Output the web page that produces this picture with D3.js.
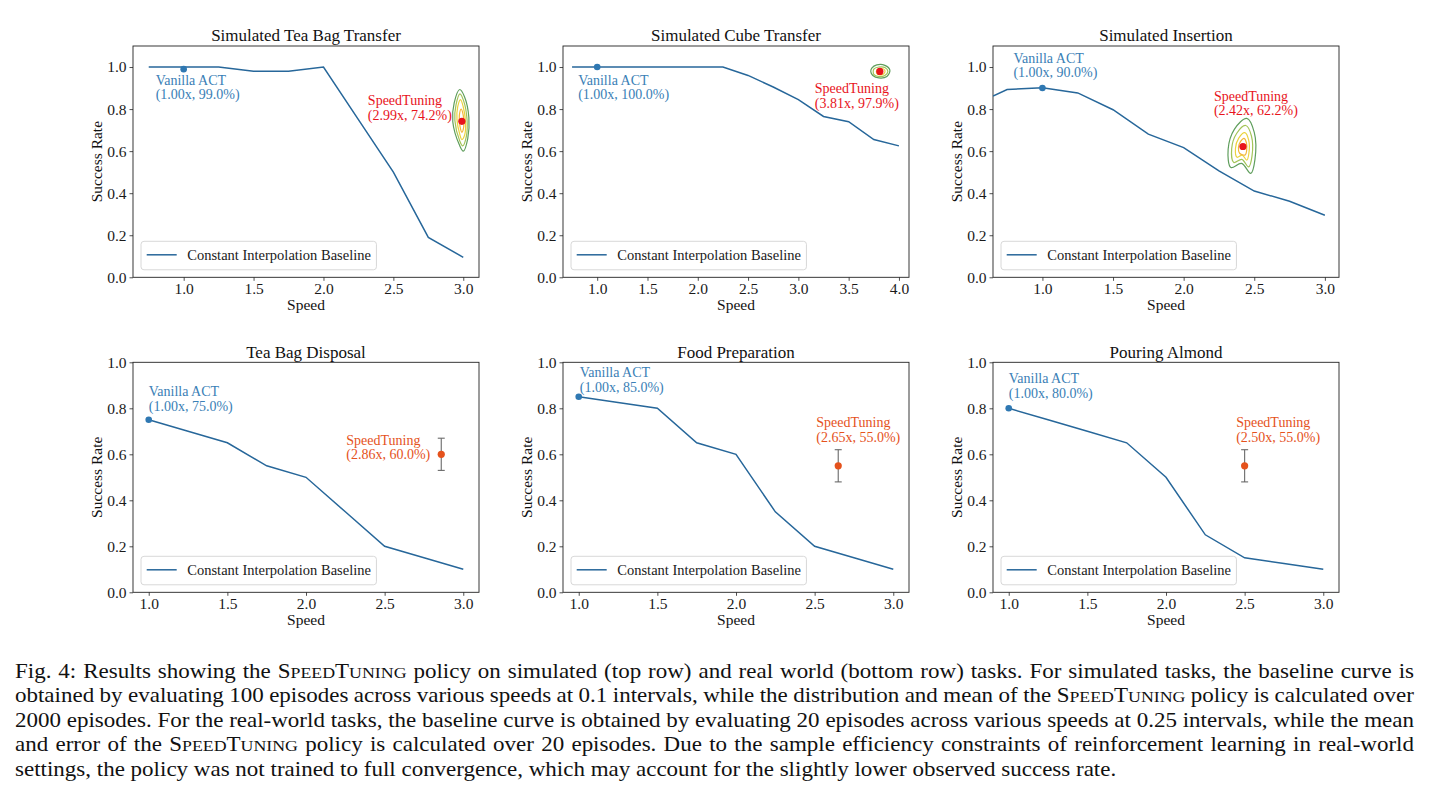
<!DOCTYPE html>
<html>
<head>
<meta charset="utf-8">
<script src="https://cdn.jsdelivr.net/npm/d3@7"></script>
<style>
body { margin: 0; background: #fff; }
svg text { font-family: "Liberation Serif", "DejaVu Serif", serif; }
</style>
</head>
<body>
<div class="fig"></div>
<script>
// speedtuning figure: six panels + caption

/* data */
var titles = ["Simulated Tea Bag Transfer", "Simulated Cube Transfer", "Simulated Insertion",
              "Tea Bag Disposal", "Food Preparation", "Pouring Almond"];

var teaBagTransferSpeeds = [0.75, 1.0, 1.25, 1.5, 1.75, 2.0, 2.25, 2.5, 2.75, 3.0];
var teaBagTransferRates  = [1.00, 1.00, 1.00, 0.98, 0.98, 1.00, 0.75, 0.50, 0.19, 0.095];

var cubeTransferSpeeds = [0.75, 1.0, 1.25, 1.5, 1.75, 2.0, 2.25, 2.5, 2.75, 3.0, 3.25, 3.5, 3.75, 4.0];
var cubeTransferRates  = [1.00, 1.00, 1.00, 1.00, 1.00, 1.00, 1.00, 0.96, 0.905, 0.845, 0.765, 0.74, 0.655, 0.625];

var insertionSpeeds = [0.65, 0.75, 1.0, 1.25, 1.5, 1.75, 2.0, 2.25, 2.5, 2.75, 3.0];
var insertionRates  = [0.862, 0.893, 0.901, 0.877, 0.797, 0.681, 0.617, 0.506, 0.41, 0.362, 0.295];

var realSpeeds = [1.0, 1.25, 1.5, 1.75, 2.0, 2.25, 2.5, 2.75, 3.0];
var teaBagDisposalRates = [0.75, 0.70, 0.65, 0.55, 0.50, 0.35, 0.20, 0.15, 0.10];
var foodPrepRates       = [0.85, 0.825, 0.80, 0.65, 0.60, 0.35, 0.20, 0.15, 0.10];
var pouringAlmondRates  = [0.80, 0.75, 0.70, 0.65, 0.50, 0.25, 0.15, 0.125, 0.10];

var vanillaSpeeds = [1.00, 1.00, 1.00, 1.00, 1.00, 1.00];
var vanillaRates  = [0.99, 1.00, 0.90, 0.75, 0.85, 0.80];

var tuningSpeeds = [2.99, 3.81, 2.42, 2.86, 2.65, 2.50];
var tuningRates  = [0.742, 0.979, 0.622, 0.60, 0.55, 0.55];
var tuningErr    = [0, 0, 0, 0.07, 0.07, 0.07];

// density contours of the simulated policy (outer -> inner), [speed, rate]
var contourTeaBag = [
  [[2.975,0.893],[3.008,0.86],[3.04,0.76],[3.032,0.66],[3.0,0.60],[2.972,0.63],[2.925,0.74],[2.935,0.83]],
  [[2.976,0.872],[3.002,0.84],[3.027,0.75],[3.022,0.67],[2.996,0.625],[2.974,0.65],[2.94,0.745],[2.948,0.82]],
  [[2.98,0.845],[3.0,0.81],[3.016,0.74],[3.011,0.68],[2.99,0.655],[2.975,0.68],[2.955,0.75],[2.96,0.81]],
  [[2.985,0.80],[3.0,0.77],[3.004,0.72],[2.99,0.69],[2.976,0.72],[2.972,0.77]]
];
var contourCube = [
  [[3.73,0.995],[3.78,1.01],[3.86,1.008],[3.91,0.985],[3.88,0.955],[3.8,0.948],[3.74,0.96],[3.72,0.978]],
  [[3.75,0.99],[3.8,1.0],[3.86,0.998],[3.89,0.98],[3.86,0.96],[3.8,0.955],[3.75,0.965]],
  [[3.78,0.985],[3.82,0.993],[3.86,0.985],[3.85,0.968],[3.81,0.963],[3.78,0.97]]
];
var contourInsertion = [
  [[2.447,0.756],[2.50,0.689],[2.505,0.561],[2.475,0.494],[2.41,0.542],[2.335,0.522],[2.315,0.609],[2.36,0.705]],
  [[2.44,0.722],[2.48,0.672],[2.484,0.576],[2.46,0.525],[2.412,0.561],[2.355,0.546],[2.34,0.612],[2.375,0.684]],
  [[2.433,0.688],[2.46,0.654],[2.462,0.59],[2.447,0.557],[2.415,0.581],[2.378,0.571],[2.367,0.614],[2.39,0.662]],
  [[2.428,0.661],[2.444,0.641],[2.446,0.602],[2.436,0.582],[2.396,0.59],[2.388,0.617],[2.402,0.645]]
];

var xTicksSim  = [1.0, 1.5, 2.0, 2.5, 3.0];
var xTicksCube = [1.0, 1.5, 2.0, 2.5, 3.0, 3.5, 4.0];
var yTicks     = [0.0, 0.2, 0.4, 0.6, 0.8, 1.0];

var captionLines = [
  "Fig. 4: Results showing the SPEEDTUNING policy on simulated (top row) and real world (bottom row) tasks. For simulated tasks, the baseline curve is",
  "obtained by evaluating 100 episodes across various speeds at 0.1 intervals, while the distribution and mean of the SPEEDTUNING policy is calculated over",
  "2000 episodes. For the real-world tasks, the baseline curve is obtained by evaluating 20 episodes across various speeds at 0.25 intervals, while the mean",
  "and error of the SPEEDTUNING policy is calculated over 20 episodes. Due to the sample efficiency constraints of reinforcement learning in real-world",
  "settings, the policy was not trained to full convergence, which may account for the slightly lower observed success rate."
];

/* layout */
var W = 1429, H = 792;
var colX = [133, 563, 993], rowY = [46, 362.3], rowH = [231.3, 230], plotW = 346;
var blue = "#27679a", blueMark = "#2f78b2", blueText = "#3a80b6";
var simRed = "#e8141c", realOrange = "#e5521c";
var contourColors = ["#5f9e5c", "#a3c457", "#ebd33f", "#f3b637"];

var panels = [
  {speeds: teaBagTransferSpeeds, rates: teaBagTransferRates, xDom: [0.6375, 3.1125], yDom: [0, 1.1], xTicks: xTicksSim,
   contour: contourTeaBag, tColor: simRed, van: [-28, 16], tun: [-94, -16]},
  {speeds: cubeTransferSpeeds, rates: cubeTransferRates, xDom: [0.66, 4.1], yDom: [0, 1.1], xTicks: xTicksCube,
   contour: contourCube, tColor: simRed, van: [-19, 17.5], tun: [-65, 22]},
  {speeds: insertionSpeeds, rates: insertionRates, xDom: [0.65, 3.1], yDom: [0, 1.1], xTicks: xTicksSim,
   contour: contourInsertion, tColor: simRed, van: [-29, -25], tun: [-29, -45.5]},
  {speeds: realSpeeds, rates: teaBagDisposalRates, xDom: [0.9, 3.1], yDom: [0, 1.0], xTicks: xTicksSim,
   contour: null, tColor: realOrange, van: [0, -23.5], tun: [-95, -9.5]},
  {speeds: realSpeeds, rates: foodPrepRates, xDom: [0.9, 3.1], yDom: [0, 1.0], xTicks: xTicksSim,
   contour: null, tColor: realOrange, van: [1, -19.5], tun: [-22, -38.5]},
  {speeds: realSpeeds, rates: pouringAlmondRates, xDom: [0.9, 3.1], yDom: [0, 1.0], xTicks: xTicksSim,
   contour: null, tColor: realOrange, van: [0, -25], tun: [-8.5, -38.5]}
];

var fmtSpeed = d3.format(".2f"), fmtRate = d3.format(".1%"), fmtTick = d3.format(".1f");

/* Generate svg */
var svg = d3.select(".fig").append("svg")
    .attr("width", W)
    .attr("height", H);
var defs = svg.append("defs");

panels.forEach(function(p, i) {
  var h = rowH[Math.floor(i / 3)];
  var g = svg.append("g")
      .attr("transform", "translate(" + colX[i % 3] + "," + rowY[Math.floor(i / 3)] + ")");

  var x = d3.scaleLinear().domain(p.xDom).range([0, plotW]);
  var y = d3.scaleLinear().domain(p.yDom).range([h, 0]);

  defs.append("clipPath").attr("id", "clip" + i)
    .append("rect").attr("width", plotW).attr("height", h);

  // axes
  var ax = g.append("g")
      .attr("transform", "translate(0," + h + ")")
      .call(d3.axisBottom(x).tickValues(p.xTicks).tickFormat(fmtTick)
            .tickSizeInner(3.5).tickSizeOuter(0).tickPadding(2));
  var ay = g.append("g")
      .call(d3.axisLeft(y).tickValues(yTicks).tickFormat(fmtTick)
            .tickSizeInner(3.5).tickSizeOuter(0).tickPadding(3));
  [ax, ay].forEach(function(a) {
    a.attr("font-size", 15.5).attr("font-family", null);
    a.select(".domain").remove();
    a.selectAll("text").attr("fill", "#1a1a1a");
    a.selectAll("line").attr("stroke", "#222").attr("stroke-width", 0.8);
  });

  // frame
  g.append("rect")
      .attr("width", plotW).attr("height", h)
      .attr("fill", "none").attr("stroke", "#222").attr("stroke-width", 0.9);

  var plot = g.append("g").attr("clip-path", "url(#clip" + i + ")");

  /* baseline line */
  var line = d3.line()
      .x(function(d) { return x(d[0]); })
      .y(function(d) { return y(d[1]); });
  plot.append("path")
      .datum(d3.zip(p.speeds, p.rates))
      .attr("fill", "none")
      .attr("stroke", blue)
      .attr("stroke-width", 1.5)
      .attr("d", line);

  /* contours */
  if (p.contour) {
    var ring = d3.line()
        .x(function(d) { return x(d[0]); })
        .y(function(d) { return y(d[1]); })
        .curve(d3.curveCatmullRomClosed.alpha(0.5));
    p.contour.forEach(function(c, k) {
      plot.append("path")
          .attr("d", ring(c))
          .attr("fill", "none")
          .attr("stroke", contourColors[k])
          .attr("stroke-width", 1.2);
    });
  }

  /* vanilla ACT */
  var vx = x(vanillaSpeeds[i]), vy = y(vanillaRates[i]);
  g.append("circle").attr("cx", vx).attr("cy", vy).attr("r", 3.3).attr("fill", blueMark);
  var vt = g.append("text").attr("font-size", 14).attr("fill", blueText);
  vt.append("tspan").attr("x", vx + p.van[0]).attr("y", vy + p.van[1]).text("Vanilla ACT");
  vt.append("tspan").attr("x", vx + p.van[0]).attr("y", vy + p.van[1] + 14.3)
    .text("(" + fmtSpeed(vanillaSpeeds[i]) + "x, " + fmtRate(vanillaRates[i]) + ")");

  /* speedtuning */
  var tx = x(tuningSpeeds[i]), ty = y(tuningRates[i]);
  if (tuningErr[i] > 0) {
    var e0 = y(tuningRates[i] - tuningErr[i]), e1 = y(tuningRates[i] + tuningErr[i]);
    var eg = g.append("g").attr("stroke", "#6a6a6a").attr("stroke-width", 1.1);
    eg.append("line").attr("x1", tx).attr("x2", tx).attr("y1", e0).attr("y2", e1);
    eg.append("line").attr("x1", tx - 3.5).attr("x2", tx + 3.5).attr("y1", e0).attr("y2", e0);
    eg.append("line").attr("x1", tx - 3.5).attr("x2", tx + 3.5).attr("y1", e1).attr("y2", e1);
  }
  g.append("circle").attr("cx", tx).attr("cy", ty).attr("r", 3.6).attr("fill", p.tColor);
  var tt = g.append("text").attr("font-size", 14).attr("fill", p.tColor);
  tt.append("tspan").attr("x", tx + p.tun[0]).attr("y", ty + p.tun[1]).text("SpeedTuning");
  tt.append("tspan").attr("x", tx + p.tun[0]).attr("y", ty + p.tun[1] + 14.3)
    .text("(" + fmtSpeed(tuningSpeeds[i]) + "x, " + fmtRate(tuningRates[i]) + ")");

  /* legend */
  var lg = g.append("g").attr("transform", "translate(8," + (h - 36) + ")");
  var box = lg.append("rect")
      .attr("height", 28.5).attr("rx", 3)
      .attr("fill", "#fff").attr("fill-opacity", 0.85)
      .attr("stroke", "#d4d4d4").attr("stroke-width", 0.9);
  lg.append("line").attr("x1", 5.7).attr("x2", 35.7).attr("y1", 13.5).attr("y2", 13.5)
      .attr("stroke", blue).attr("stroke-width", 1.5);
  var lt = lg.append("text").attr("x", 46.3).attr("y", 19).attr("font-size", 14.5).attr("fill", "#1a1a1a")
      .text("Constant Interpolation Baseline");
  box.attr("width", 46.3 + lt.node().getComputedTextLength() + 5.5);

  /* titles and labels */
  g.append("text").attr("x", plotW / 2).attr("y", -4.8)
      .attr("text-anchor", "middle").attr("font-size", 17).attr("fill", "#111")
      .text(titles[i]);
  g.append("text").attr("x", plotW / 2).attr("y", h + 33)
      .attr("text-anchor", "middle").attr("font-size", 15.5).attr("fill", "#111")
      .text("Speed");
  g.append("text")
      .attr("transform", "translate(-31," + (h / 2) + ") rotate(-90)")
      .attr("text-anchor", "middle").attr("font-size", 15.5).attr("fill", "#111")
      .text("Success Rate");
});

/* caption, justified (the scan is stretched horizontally) */
var capScale = 1.15;
var capLeft = 15 / capScale, capWidth = 1399 / capScale, capTop = 678, capStep = 24.5;
var cap = svg.append("g").attr("transform", "scale(" + capScale + ",1)");
captionLines.forEach(function(lineText, li) {
  var words = lineText.split(" ");
  var nodes = words.map(function(w) {
    var t = cap.append("text").attr("y", capTop + li * capStep)
        .attr("font-size", 20).attr("fill", "#111");
    w.split(/(SPEEDTUNING)/).forEach(function(part) {
      if (part === "SPEEDTUNING") {
        [["S", 20], ["PEED", 15.5], ["T", 20], ["UNING", 15.5]].forEach(function(s) {
          t.append("tspan").attr("font-size", s[1]).text(s[0]);
        });
      } else if (part) {
        t.append("tspan").text(part);
      }
    });
    return t;
  });
  var widths = nodes.map(function(n) { return n.node().getComputedTextLength(); });
  var last = li === captionLines.length - 1;
  var gap = last ? 5 : (capWidth - d3.sum(widths)) / (words.length - 1);
  var cx = capLeft;
  nodes.forEach(function(n, k) {
    n.attr("x", cx);
    cx += widths[k] + gap;
  });
});
</script>
</body>
</html>
